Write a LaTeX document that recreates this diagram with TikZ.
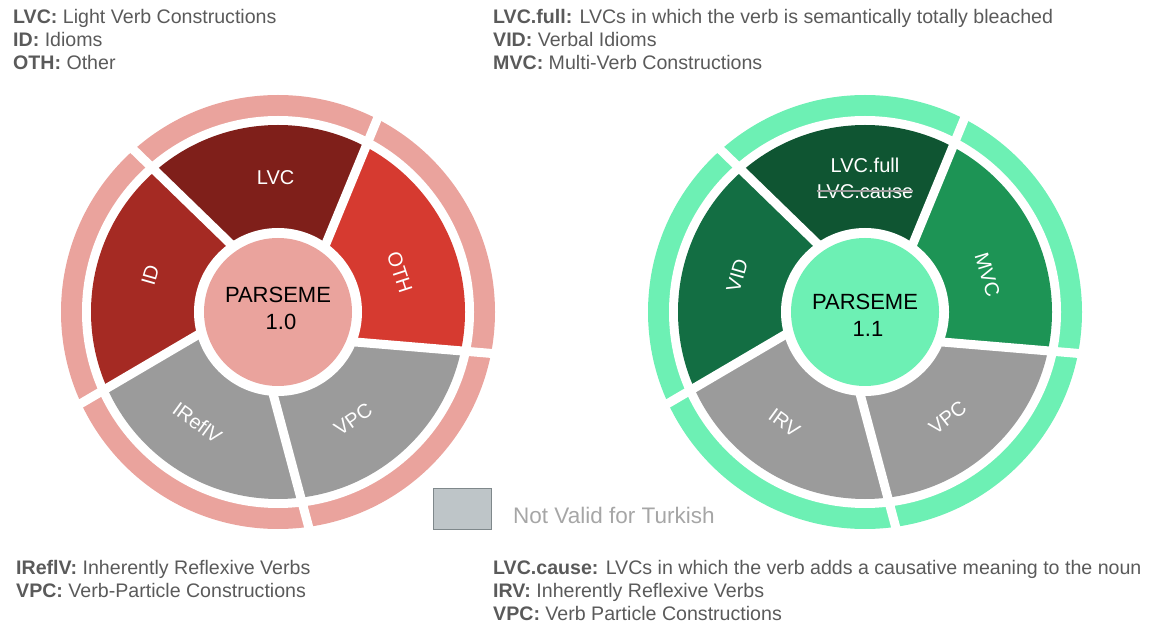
\documentclass[tikz,border=0pt]{standalone}
\usepackage{fontspec}
\setmainfont{Liberation Sans}[Ligatures=NoCommon]
\usetikzlibrary{calc}
\definecolor{ringA}{HTML}{EAA39D}
\definecolor{lvcA}{HTML}{7F1F1A}
\definecolor{idA}{HTML}{A52A23}
\definecolor{othA}{HTML}{D63A30}
\definecolor{ringB}{HTML}{6DF0B4}
\definecolor{lvcB}{HTML}{0F5532}
\definecolor{vidB}{HTML}{136E43}
\definecolor{mvcB}{HTML}{1D9455}
\definecolor{notvalid}{HTML}{9B9B9B}
\definecolor{legendtext}{HTML}{5A5A5A}
\definecolor{boxfill}{HTML}{BEC5C8}
\definecolor{boxedge}{HTML}{7F888B}
\definecolor{nvtext}{HTML}{A6A6A6}

\begin{document}
\begin{tikzpicture}[x=1pt,y=1pt,
  gap/.style={draw=white,line width=9pt},
  seglabel/.style={text=white,font=\fontsize{20}{24}\selectfont,inner sep=0pt},
  hub/.style={font=\fontsize{22}{27}\selectfont,align=center,inner sep=0pt},
  legend/.style={anchor=base west,inner sep=0pt,text=legendtext,
    font=\fontsize{19.6}{23}\selectfont},
]
  \useasboundingbox (0,0) rectangle (1156,624);
  \coordinate (L) at (278,312);
  \coordinate (R) at (865,312);

  % outer rings
  \foreach \p/\col in {L/ringA,R/ringB} {
    \fill[\col] (\p) circle (217);
    \fill[white] (\p) circle (196);
  }

  % separators between the segments
  \foreach \p in {L,R} {
    \foreach \k/\ain/\aout in {1/125/131,2/55/62,3/-21/-12,4/-93/-83,5/196/204} {
      \coordinate (\p\k i) at ($(\p)+(\ain:84)$);
      \coordinate (\p\k o) at ($(\p)+(\aout:187)$);
      \coordinate (\p\k a) at ($(\p\k i)!-0.4!(\p\k o)$);
      \coordinate (\p\k b) at ($(\p\k i)!1.4!(\p\k o)$);
      \coordinate (\p\k f) at ($(\p)!2!(\p\k b)$);
    }
  }

  % PARSEME 1.0
  \begin{scope}
    \clip (L) circle (187);
    \fill[lvcA] (L) -- (L2a) -- (L2b) -- (L2f) -- (L1f) -- (L1b) -- (L1a) -- cycle;
    \fill[idA] (L) -- (L1a) -- (L1b) -- (L1f) -- (L5f) -- (L5b) -- (L5a) -- cycle;
    \fill[othA] (L) -- (L3a) -- (L3b) -- (L3f) -- (L2f) -- (L2b) -- (L2a) -- cycle;
    \fill[notvalid] (L) -- (L5a) -- (L5b) -- (L5f) -- (L4f) -- (L4b) -- (L4a) -- cycle;
    \fill[notvalid] (L) -- (L4a) -- (L4b) -- (L4f) -- (L3f) -- (L3b) -- (L3a) -- cycle;
  \end{scope}
  \fill[white] (L) circle (84);
  \foreach \k in {1,...,5} \draw[gap] (L\k a) -- (L\k b);
  \fill[ringA] (L) circle (74);
  \node[hub] (hubA) at ($(L)+(0,4)$) {PARSEME\\ \hspace*{6pt}1.0};
  \node[seglabel] (lvcA) at ($(L)+(91:134)$) {LVC};
  \node[seglabel,rotate=74] (idA) at ($(L)+(164:133)$) {ID};
  \node[seglabel,rotate=-72] (othA) at ($(L)+(18:128)$) {OTH};
  \node[seglabel,rotate=-36] (irefA) at ($(L)+(234:137)$) {IReflV};
  \node[seglabel,rotate=35] (vpcA) at ($(L)+(-55:131)$) {VPC};

  % PARSEME 1.1
  \begin{scope}
    \clip (R) circle (187);
    \fill[lvcB] (R) -- (R2a) -- (R2b) -- (R2f) -- (R1f) -- (R1b) -- (R1a) -- cycle;
    \fill[vidB] (R) -- (R1a) -- (R1b) -- (R1f) -- (R5f) -- (R5b) -- (R5a) -- cycle;
    \fill[mvcB] (R) -- (R3a) -- (R3b) -- (R3f) -- (R2f) -- (R2b) -- (R2a) -- cycle;
    \fill[notvalid] (R) -- (R5a) -- (R5b) -- (R5f) -- (R4f) -- (R4b) -- (R4a) -- cycle;
    \fill[notvalid] (R) -- (R4a) -- (R4b) -- (R4f) -- (R3f) -- (R3b) -- (R3a) -- cycle;
  \end{scope}
  \fill[white] (R) circle (84);
  \foreach \k in {1,...,5} \draw[gap] (R\k a) -- (R\k b);
  \fill[ringB] (R) circle (74);
  \node[hub] (hubB) at ($(R)+(0,-3)$) {PARSEME\\ \hspace*{6pt}1.1};
  \node[seglabel] (fullB) at ($(R)+(90:147)$) {LVC.full};
  \node[seglabel] (causeB) at ($(R)+(90:120)$) {LVC.cause};
  \draw[notvalid,line width=1.5pt] ([yshift=1pt]causeB.west) -- ([yshift=1pt]causeB.east);
  \node[seglabel,rotate=74] (vidB) at ($(R)+(164:133)$) {VID};
  \node[seglabel,rotate=-73] (mvcB) at ($(R)+(17:128)$) {MVC};
  \node[seglabel,rotate=-36] (irvB) at ($(R)+(234:137)$) {IRV};
  \node[seglabel,rotate=38] (vpcB) at ($(R)+(-52:134)$) {VPC};

  % key
  \node[draw=boxedge,fill=boxfill,line width=1.2pt,minimum width=58pt,
    minimum height=41pt] (nvbox) at (462.5,115) {};
  \node[anchor=base west,inner sep=0pt,text=nvtext,font=\fontsize{22.5}{27}\selectfont]
    (nvtext) at (513,101) {Not Valid for Turkish};

  % legends
  \node[legend] (defA1) at (13,600) {\textbf{LVC:} Light Verb Constructions};
  \node[legend] (defA2) at (13,577) {\textbf{ID:} Idioms};
  \node[legend] (defA3) at (13,554) {\textbf{OTH:} Other};
  \node[legend] (defA4) at (16,50) {\textbf{IReflV:} Inherently Reflexive Verbs};
  \node[legend] (defA5) at (16,27) {\textbf{VPC:} Verb-Particle Constructions};
  \node[legend] (defB1) at (493,600) {\textbf{LVC.full:} LVCs in which the verb is semantically totally bleached};
  \node[legend] (defB2) at (493,577) {\textbf{VID:} Verbal Idioms};
  \node[legend] (defB3) at (493,554) {\textbf{MVC:} Multi-Verb Constructions};
  \node[legend] (defB4) at (493,50) {\textbf{LVC.cause:} LVCs in which the verb adds a causative meaning to the noun};
  \node[legend] (defB5) at (493,27) {\textbf{IRV:} Inherently Reflexive Verbs};
  \node[legend] (defB6) at (493,4) {\textbf{VPC:} Verb Particle Constructions};
\end{tikzpicture}
\end{document}
